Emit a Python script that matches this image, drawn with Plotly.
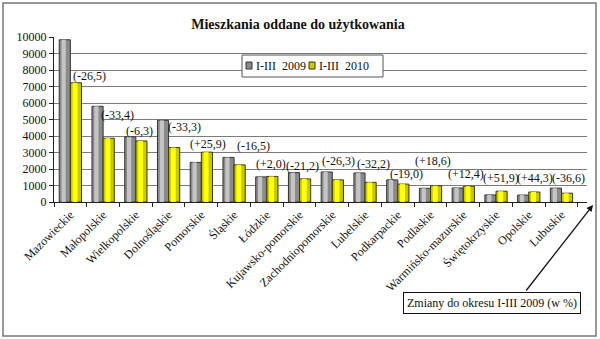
import plotly.graph_objects as go

# Dwellings completed, January-March, by voivodeship
regions = [
    "Mazowieckie", "Małopolskie", "Wielkopolskie", "Dolnośląskie", "Pomorskie",
    "Śląskie", "Łódzkie", "Kujawsko-pomorskie", "Zachodniopomorskie", "Lubelskie",
    "Podkarpackie", "Podlaskie", "Warmińsko-mazurskie", "Świętokrzyskie",
    "Opolskie", "Lubuskie",
]
q1_2009 = [9830, 5800, 3950, 4950, 2400, 2700, 1520, 1780, 1820, 1760,
           1340, 830, 850, 430, 420, 840]
q1_2010 = [7225, 3865, 3700, 3300, 3020, 2250, 1550, 1400, 1340, 1190,
           1085, 985, 955, 653, 606, 533]
change_labels = ["(-26,5)", "(-33,4)", "(-6,3)", "(-33,3)", "(+25,9)", "(-16,5)",
                 "(+2,0)", "(-21,2)", "(-26,3)", "(-32,2)", "(-19,0)", "(+18,6)",
                 "(+12,4)", "(+51,9)", "(+44,3)", "(-36,6)"]
series_names = ["I-III\u00a0 2009", "I-III\u00a0 2010"]

# where each change label sits (y in axis units, horizontal nudge in px)
label_y = [7640, 5270, 4300, 4550, 3520, 3390, 2300, 2180, 2480, 2300,
           1700, 2480, 1700, 1450, 1450, 1450]
label_dx = [19, 14, 4, 16, 7, 19, 4, 3, 6, 8, 9, 2, 3, 5, 6, 7]

SERIF = "Liberation Serif, Times New Roman, serif"
INK = "#111111"
W, H = 600, 339
L, R, T, B = 54, 13, 37, 137
PW, PH = W - L - R, H - T - B


def px(x):
    return (x - L) / PW


def py(y):
    return (H - B - y) / PH


GREY, GREY_HI, GREY_EDGE = "#8a8a8a", "#c4c4c4", "#333333"
YEL, YEL_HI, YEL_EDGE = "#c9c900", "#ffff10", "#3a3a00"

BW = 0.34
fig = go.Figure()

# grey bars with a lighter stripe for a rounded look
fig.add_bar(x=regions, y=q1_2009, name=series_names[0],
            offset=-BW, width=BW,
            marker=dict(color=GREY, line=dict(color=GREY_EDGE, width=1)))
fig.add_bar(x=regions, y=q1_2009, showlegend=False, hoverinfo="skip",
            offset=-BW + 0.07, width=0.13,
            marker=dict(color=GREY_HI, line=dict(width=0)))
fig.add_bar(x=regions, y=q1_2010, name=series_names[1],
            offset=0, width=BW,
            marker=dict(color=YEL, line=dict(color=YEL_EDGE, width=1)))
fig.add_bar(x=regions, y=q1_2010, showlegend=False, hoverinfo="skip",
            offset=0.07, width=0.15,
            marker=dict(color=YEL_HI, line=dict(width=0)))

annotations = []
for r, t, yv, dx in zip(regions, change_labels, label_y, label_dx):
    annotations.append(dict(x=r, y=yv, text=t, showarrow=False, xshift=dx,
                            font=dict(family=SERIF, size=12, color=INK),
                            yanchor="middle", xanchor="center"))

# note box and its pointer
annotations.append(dict(xref="paper", yref="paper", x=px(492), y=py(303),
                        xanchor="center", yanchor="middle",
                        text="Zmiany do okresu I-III 2009 (w %)", showarrow=False,
                        font=dict(family=SERIF, size=12, color=INK),
                        bordercolor=INK, borderwidth=1, borderpad=3,
                        bgcolor="white"))
annotations.append(dict(xref="paper", yref="paper", x=px(593), y=py(205),
                        text="", showarrow=True, axref="pixel", ayref="pixel",
                        ax=-68, ay=87, arrowhead=2, arrowsize=1, arrowwidth=1.3,
                        arrowcolor=INK, standoff=0))

# compact legend box drawn by hand
shapes = [
    dict(type="rect", xref="paper", yref="paper",
         x0=px(3), x1=px(596), y0=py(336), y1=py(3),
         line=dict(color="#777777", width=1.5), layer="below"),
    dict(type="rect", xref="paper", yref="paper",
         x0=px(242), x1=px(383), y0=py(77), y1=py(55),
         line=dict(color="#555555", width=1), fillcolor="white", layer="above"),
]
for sx, col, edge, tx, name in [(246, GREY, GREY_EDGE, 254, series_names[0]),
                                (309, YEL, YEL_EDGE, 317, series_names[1])]:
    shapes.append(dict(type="rect", xref="paper", yref="paper",
                       x0=px(sx), x1=px(sx + 6), y0=py(69), y1=py(62),
                       line=dict(color=edge, width=1), fillcolor=col, layer="above"))
    annotations.append(dict(xref="paper", yref="paper", x=px(tx), y=py(66),
                            xanchor="left", yanchor="middle", showarrow=False,
                            text=name, font=dict(family=SERIF, size=12, color=INK)))

fig.update_layout(
    width=W, height=H,
    margin=dict(l=L, r=R, t=T, b=B),
    paper_bgcolor="white", plot_bgcolor="white",
    barmode="overlay",
    title=dict(text="<b>Mieszkania oddane do użytkowania</b>",
               x=px(298), xref="paper", xanchor="center",
               y=1 - 24 / H, yanchor="middle",
               font=dict(family=SERIF, size=14, color=INK)),
    showlegend=False,
    annotations=annotations,
    shapes=shapes,
)

fig.update_xaxes(type="category", tickson="boundaries", ticks="outside", ticklen=4,
                 tickcolor="#222222", showline=True, linecolor="#222222",
                 tickangle=-45, showgrid=False,
                 tickfont=dict(family=SERIF, size=12, color=INK))
fig.update_yaxes(range=[0, 10000], dtick=1000, ticks="outside", ticklen=4,
                 tickcolor="#222222", showline=True, linecolor="#222222",
                 showgrid=True, gridcolor="#7a7a7a", gridwidth=1,
                 tickformat="d", zeroline=False,
                 tickfont=dict(family=SERIF, size=12, color=INK))

fig.write_html("out.html")
